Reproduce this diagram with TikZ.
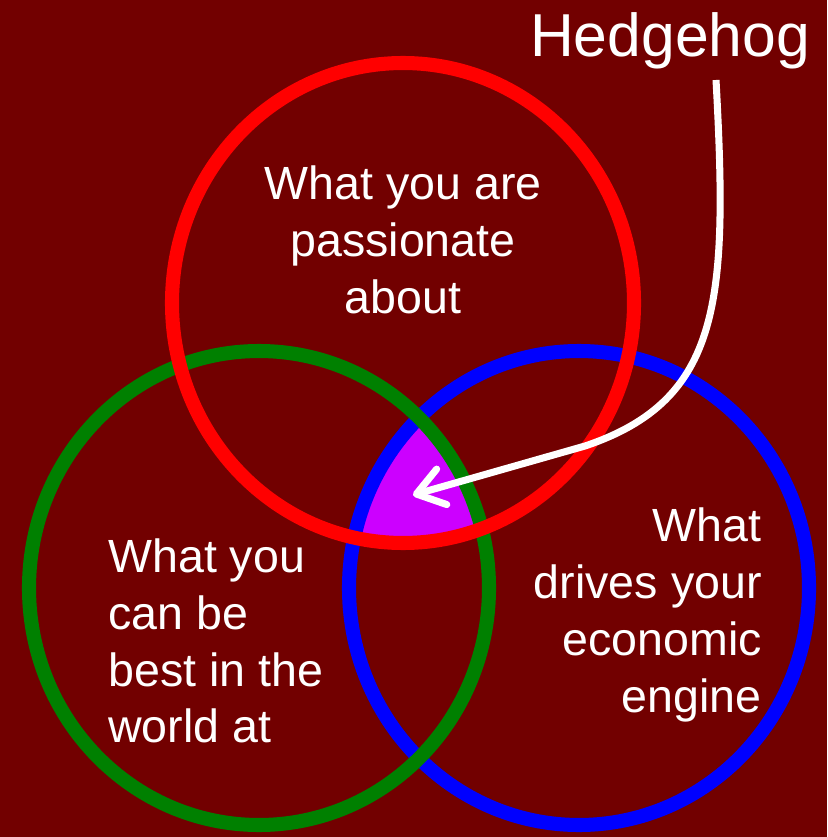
\documentclass[tikz,border=0pt]{standalone}
\usepackage{fontspec}
\setmainfont{Liberation Sans}
\usetikzlibrary{arrows.meta}
\definecolor{hhback}{HTML}{720000}
\definecolor{hhred}{HTML}{FF0000}
\definecolor{hhgreen}{HTML}{008000}
\definecolor{hhblue}{HTML}{0000FF}
\definecolor{hhcore}{HTML}{CC00FF}
\tikzset{
  ring/.style={line width=8pt},
  ringtext/.style={text=white, inner sep=0pt, font=\fontsize{26.5}{32.3}\selectfont},
  arrowline/.style={draw=white, line width=4pt, -{Straight Barb[length=15pt,width=21pt,round]}}
}
\begin{document}
\begin{tikzpicture}[x=0.02cm, y=0.02cm, yscale=-1] %1 unit = 1 pixel of the 827x837 picture
\fill[hhback] (0,0) rectangle (827,837); %Background, fixes the size
\begin{scope} %Core where all three meet
\clip (403,303) ellipse [x radius=231, y radius=240];
\clip (259,588) ellipse [x radius=230, y radius=237];
\fill[hhcore] (579,588) ellipse [x radius=230, y radius=237];
\end{scope}
\draw[ring, hhblue] (579,588) ellipse [x radius=230, y radius=237]; %Economic engine
\draw[ring, hhgreen] (259,588) ellipse [x radius=230, y radius=237]; %Best in the world
\draw[ring, hhred] (403,303) ellipse [x radius=231, y radius=240]; %Passion
\node[ringtext, align=center] (passion) at (403,240) {What you are\\passionate\\about};
\node[ringtext, align=left, anchor=west] (best) at (108,641) {What you\\can be\\best in the\\world at};
\node[ringtext, align=right, anchor=east] (engine) at (762,615) {What\\drives your\\economic\\engine};
\node[text=white, inner sep=0pt, anchor=base, font=\fontsize{34.5}{40}\selectfont] (hedgehog) at (670,57) {Hedgehog};
\coordinate (tail) at (716,80);
\coordinate (bend) at (585,446);
\coordinate (core) at (413,495);
\draw[arrowline] (tail) .. controls (728,300) and (722,400) .. (bend) -- (core); %Pointer to the core
\end{tikzpicture}
\end{document}
